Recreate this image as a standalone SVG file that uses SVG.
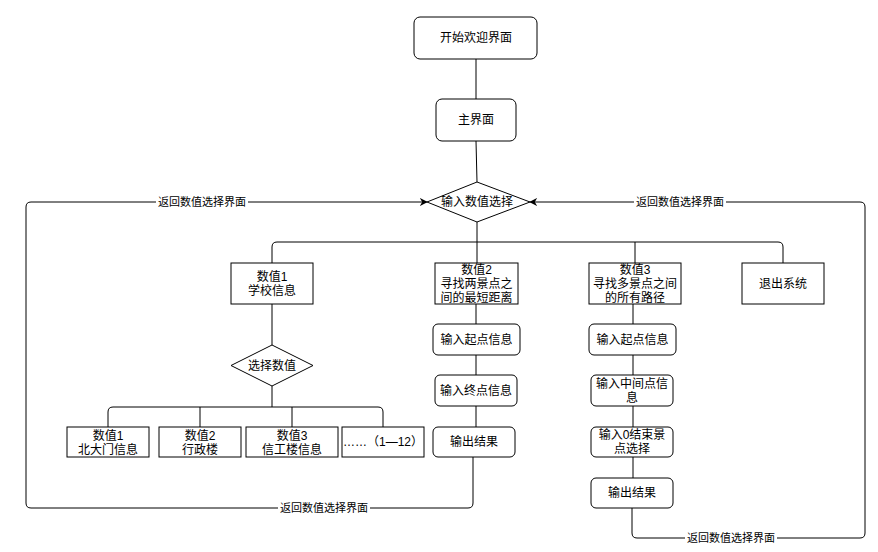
<svg xmlns="http://www.w3.org/2000/svg" width="878" height="552" viewBox="0 0 878 552">
<style>
.n{fill:#fff;stroke:#000;stroke-width:1}
.t{font-family:"Liberation Sans","Noto Sans CJK SC",sans-serif;font-size:12px;fill:#000;text-anchor:middle;dominant-baseline:central}
.e{font-family:"Liberation Sans","Noto Sans CJK SC",sans-serif;font-size:11px;fill:#000;text-anchor:middle;dominant-baseline:central}
.c{fill:none;stroke:#000;stroke-width:1}
</style>
<defs>
<marker id="arr" viewBox="0 0 10 10" refX="9" refY="5" markerWidth="8" markerHeight="8" orient="auto" markerUnits="userSpaceOnUse">
<path d="M0,0 L10,5 L0,10 L3,5 z" fill="#000"/>
</marker>
</defs>
<rect width="878" height="552" fill="#fff"/>
<g id="connectors">
<path class="c" d="M476 59 L476 99"/>
<path class="c" d="M476 141 L477 182"/>
<path class="c" d="M477 222 L477 263"/>
<path class="c" d="M272 263 L272 247 Q272 242 277 242 L778 242 Q783 242 783 247 L783 263"/>
<path class="c" d="M635 242 L635 263"/>
<path class="c" d="M272 304 L272 345"/>
<path class="c" d="M272 386 L272 407"/>
<path class="c" d="M108 427 L108 412 Q108 407 113 407 L378 407 Q383 407 383 412 L383 427"/>
<path class="c" d="M200 407 L200 427"/>
<path class="c" d="M292 407 L292 427"/>
<path class="c" d="M476 304 L476 324"/>
<path class="c" d="M476 355 L476 375"/>
<path class="c" d="M476 406 L476 427"/>
<path class="c" d="M633 304 L633 324"/>
<path class="c" d="M633 355 L633 375"/>
<path class="c" d="M633 406 L633 427"/>
<path class="c" d="M633 457 L633 478"/>
<path class="c" d="M473 457 L473 503 Q473 508 468 508 L31 508 Q26 508 26 503 L26 207 Q26 202 31 202 L427 202" marker-end="url(#arr)"/>
<path class="c" d="M632 508 L632 533 Q632 538 637 538 L860 538 Q865 538 865 533 L865 207 Q865 202 860 202 L530 202" marker-end="url(#arr)"/>
<rect x="156" y="195" width="92" height="14" fill="#fff"/>
<text class="e" x="202" y="202">返回数值选择界面</text>
<rect x="634" y="195" width="92" height="14" fill="#fff"/>
<text class="e" x="680" y="202">返回数值选择界面</text>
<rect x="278" y="501" width="92" height="14" fill="#fff"/>
<text class="e" x="324" y="508">返回数值选择界面</text>
<rect x="685" y="531" width="92" height="14" fill="#fff"/>
<text class="e" x="731" y="538">返回数值选择界面</text>
</g>
<g id="start"><rect class="n" x="414" y="17" width="123" height="42" rx="6"/><text class="t" x="476" y="38">开始欢迎界面</text></g>
<g id="main"><rect class="n" x="436" y="99" width="80" height="42" rx="6"/><text class="t" x="476" y="120">主界面</text></g>
<g id="choice"><polygon class="n" points="427,202 477,182 530,202 477,222"/><text class="t" x="477" y="202">输入数值选择</text></g>
<g id="v1"><rect class="n" x="231" y="263" width="82" height="41"/><text class="t" x="272" y="276.5">数值1</text><text class="t" x="272" y="290.5">学校信息</text></g>
<g id="v2"><rect class="n" x="435" y="263" width="83" height="41"/><text class="t" x="476.5" y="269.5">数值2</text><text class="t" x="476.5" y="283.5">寻找两景点之</text><text class="t" x="476.5" y="297.5">间的最短距离</text></g>
<g id="v3"><rect class="n" x="589" y="263" width="92" height="41"/><text class="t" x="635" y="269.5">数值3</text><text class="t" x="635" y="283.5">寻找多景点之间</text><text class="t" x="635" y="297.5">的所有路径</text></g>
<g id="exit"><rect class="n" x="742" y="263" width="82" height="41"/><text class="t" x="783" y="283.5">退出系统</text></g>
<g id="sel"><polygon class="n" points="231,365.5 272,345 313,365.5 272,386"/><text class="t" x="272" y="365.5">选择数值</text></g>
<g id="s1"><rect class="n" x="67" y="427" width="82" height="30"/><text class="t" x="108" y="435.5">数值1</text><text class="t" x="108" y="449.5">北大门信息</text></g>
<g id="s2"><rect class="n" x="159" y="427" width="82" height="30"/><text class="t" x="200" y="435.5">数值2</text><text class="t" x="200" y="449.5">行政楼</text></g>
<g id="s3"><rect class="n" x="246" y="427" width="92" height="30"/><text class="t" x="292" y="435.5">数值3</text><text class="t" x="292" y="449.5">信工楼信息</text></g>
<g id="s4"><rect class="n" x="342" y="427" width="82" height="30"/><text class="t" x="383" y="442">……（1—12）</text></g>
<g id="a1"><rect class="n" x="433" y="324" width="87" height="31" rx="5"/><text class="t" x="476.5" y="339.5">输入起点信息</text></g>
<g id="a2"><rect class="n" x="435" y="375" width="82" height="31" rx="5"/><text class="t" x="476" y="390.5">输入终点信息</text></g>
<g id="a3"><rect class="n" x="433" y="427" width="82" height="30" rx="5"/><text class="t" x="474" y="442">输出结果</text></g>
<g id="b1"><rect class="n" x="589" y="324" width="87" height="31" rx="5"/><text class="t" x="632.5" y="339.5">输入起点信息</text></g>
<g id="b2"><rect class="n" x="591" y="375" width="82" height="31" rx="5"/><text class="t" x="632" y="383.5">输入中间点信</text><text class="t" x="632" y="397.5">息</text></g>
<g id="b3"><rect class="n" x="591" y="427" width="82" height="30" rx="5"/><text class="t" x="632" y="435">输入0结束景</text><text class="t" x="632" y="449">点选择</text></g>
<g id="b4"><rect class="n" x="591" y="478" width="82" height="30" rx="5"/><text class="t" x="632" y="493">输出结果</text></g>
</svg>
